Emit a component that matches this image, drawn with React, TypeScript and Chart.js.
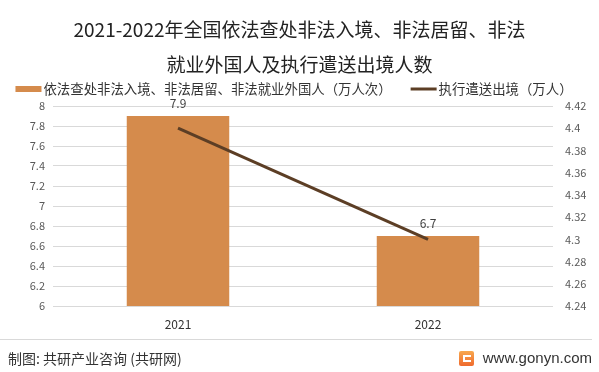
import React, { useEffect, useRef } from "react";
import { Chart, registerables } from "chart.js";

Chart.register(...registerables);

const titleLines = [
  "2021-2022年全国依法查处非法入境、非法居留、非法",
  "就业外国人及执行遣送出境人数",
];
const categories = ["2021", "2022"];
const barLabel = "依法查处非法入境、非法居留、非法就业外国人（万人次）";
const barValues = [7.9, 6.7];
const lineLabel = "执行遣送出境（万人）";
const lineValues = [4.4, 4.3];
const leftMin = 6;
const leftMax = 8;
const leftStep = 0.2;
const rightMin = 4.24;
const rightMax = 4.42;
const rightStep = 0.02;
const sourceText = "制图: 共研产业咨询 (共研网)";
const siteText = "www.gonyn.com";

const BAR_COLOR = "#D58B4C";
const LINE_COLOR = "#5C3E25";
const FONT = "'Noto Sans CJK SC', 'Noto Sans', sans-serif";

export default function App() {
  const ref = useRef<HTMLCanvasElement>(null);

  useEffect(() => {
    if (!ref.current) return;
    const fmt = (v: any) => Number(Number(v).toFixed(2)).toString();

    const valueLabels = {
      id: "valueLabels",
      afterDatasetsDraw(chart: any) {
        const meta = chart.getDatasetMeta(0);
        const ctx = chart.ctx;
        ctx.save();
        ctx.font = `12px ${FONT}`;
        ctx.fillStyle = "#404040";
        ctx.textAlign = "center";
        ctx.textBaseline = "bottom";
        meta.data.forEach((el: any, i: number) => {
          ctx.fillText(String(barValues[i]), el.x, el.y - 7);
        });
        ctx.restore();
      },
    };

    // Legend drawn with the chart's own canvas, from the dataset labels/colours
    const customLegend = {
      id: "customLegend",
      afterDraw(chart: any) {
        const ctx = chart.ctx;
        const ds = chart.data.datasets;
        ctx.save();
        ctx.font = `13.4px ${FONT}`;
        const sw = 26;
        const gapText = 2;
        const gapItem = 19;
        const w1 = ctx.measureText(ds[0].label).width;
        const w2 = ctx.measureText(ds[1].label).width;
        const total = sw + gapText + w1 + gapItem + sw + gapText + w2;
        let x = 294 - total / 2;
        const y = 89;
        ctx.textAlign = "left";
        ctx.textBaseline = "middle";
        ctx.fillStyle = ds[0].backgroundColor;
        ctx.fillRect(x, y - 3, sw, 6);
        ctx.fillStyle = "#333333";
        ctx.fillText(ds[0].label, x + sw + gapText, y);
        x += sw + gapText + w1 + gapItem;
        ctx.strokeStyle = ds[1].borderColor;
        ctx.lineWidth = 3;
        ctx.beginPath();
        ctx.moveTo(x, y);
        ctx.lineTo(x + sw, y);
        ctx.stroke();
        ctx.fillStyle = "#333333";
        ctx.fillText(ds[1].label, x + sw + gapText, y);
        ctx.restore();
      },
    };

    const chart = new Chart(ref.current, {
      type: "bar",
      data: {
        labels: categories,
        datasets: [
          {
            type: "bar",
            label: barLabel,
            data: barValues,
            backgroundColor: BAR_COLOR,
            yAxisID: "y",
            order: 2,
            barPercentage: 0.41,
            categoryPercentage: 1,
          } as any,
          {
            type: "line",
            label: lineLabel,
            data: lineValues,
            borderColor: LINE_COLOR,
            backgroundColor: LINE_COLOR,
            borderWidth: 3,
            pointRadius: 0,
            tension: 0,
            yAxisID: "y1",
            order: 1,
          } as any,
        ],
      },
      options: {
        animation: false,
        responsive: false,
        layout: { padding: { left: 0, right: 0, top: 0, bottom: 32 } },
        plugins: {
          tooltip: { enabled: false },
          title: {
            display: true,
            text: titleLines,
            color: "#222222",
            font: { family: FONT, size: 19, weight: "normal", lineHeight: "35px" } as any,
            padding: { top: 12.5, bottom: 23.5 } as any,
          },
          legend: { display: false },
        },
        scales: {
          x: {
            grid: { display: false, drawTicks: false },
            border: { display: false },
            ticks: { color: "#333333", font: { family: FONT, size: 12 }, padding: 11 },
            afterFit: (s: any) => {
              s.height = 34;
            },
          },
          y: {
            position: "left",
            min: leftMin,
            max: leftMax,
            ticks: {
              stepSize: leftStep,
              color: "#595959",
              font: { family: FONT, size: 11 },
              padding: 8,
              callback: fmt,
            },
            grid: { color: "#D9D9D9", lineWidth: 1, drawTicks: false },
            border: { display: false },
            afterFit: (s: any) => {
              s.width = 53;
            },
          },
          y1: {
            position: "right",
            min: rightMin,
            max: rightMax,
            ticks: {
              stepSize: rightStep,
              color: "#595959",
              font: { family: FONT, size: 11 },
              padding: 12,
              callback: fmt,
            },
            grid: { display: false, drawOnChartArea: false, drawTicks: false },
            border: { display: false },
            afterFit: (s: any) => {
              s.width = 46;
            },
          },
        },
      },
      plugins: [valueLabels, customLegend],
    } as any);

    return () => chart.destroy();
  }, []);

  return (
    <div
      style={{
        position: "fixed",
        left: 0,
        top: 0,
        width: 599,
        height: 372,
        background: "#ffffff",
        overflow: "hidden",
      }}
    >
      <canvas ref={ref} width={599} height={372} style={{ display: "block" }} />
      <div
        style={{
          position: "absolute",
          left: 0,
          top: 339,
          width: 592,
          height: 1,
          background: "#D9D9D9",
        }}
      />
      <div
        style={{
          position: "absolute",
          left: 8,
          top: 348,
          fontFamily: FONT,
          fontSize: 14,
          lineHeight: "20px",
          color: "#333333",
          whiteSpace: "nowrap",
        }}
      >
        {sourceText}
      </div>
      <div
        style={{
          position: "absolute",
          left: 459,
          top: 351,
          width: 15,
          height: 15,
          borderRadius: 2,
          background: "linear-gradient(180deg, #F8A84E 0%, #EF6A2E 100%)",
        }}
      >
        <div
          style={{
            position: "absolute",
            left: 4,
            top: 4,
            width: 8,
            height: 7,
            borderLeft: "2px solid #fff",
            borderBottom: "2px solid #fff",
            borderTop: "2px solid #fff",
            boxSizing: "border-box",
          }}
        />
      </div>
      <div
        style={{
          position: "absolute",
          right: 7,
          top: 348,
          fontFamily: "'Liberation Sans', Arial, sans-serif",
          fontSize: 15,
          lineHeight: "20px",
          color: "#333333",
          whiteSpace: "nowrap",
        }}
      >
        {siteText}
      </div>
    </div>
  );
}
